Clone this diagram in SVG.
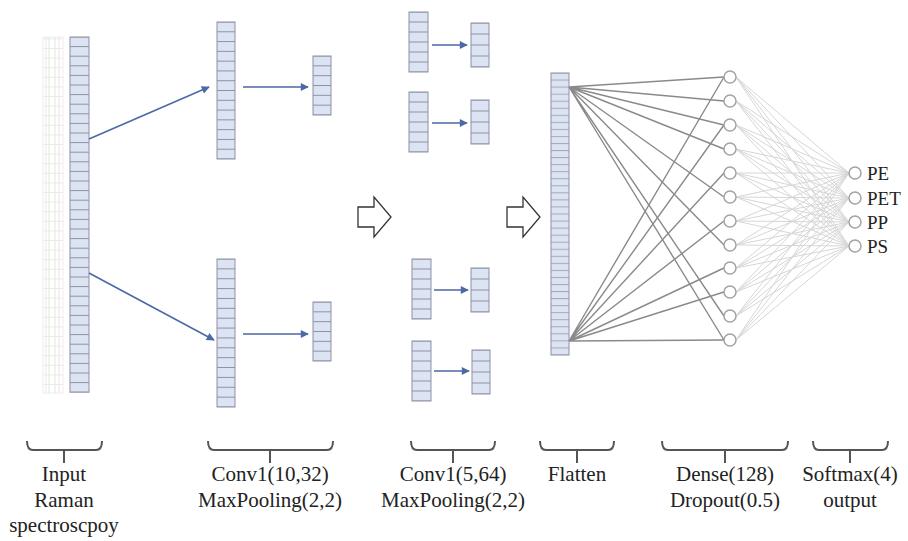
<svg xmlns="http://www.w3.org/2000/svg" width="908" height="541" viewBox="0 0 908 541">
<style>
.col{stroke:#8e92a3;stroke-width:1}
.arr{stroke:#4a69a6;stroke-width:1.6;fill:none;marker-end:url(#ah)}
.d{stroke:#8a8a8a;stroke-width:1.4;fill:none}
.o{stroke:#d6d6d6;stroke-width:1;fill:none}
.node{fill:#fff;stroke:#a3a3a3;stroke-width:1.5}
.br{stroke:#555;stroke-width:2;fill:none}
.lbl{font-size:21px;fill:#222;text-anchor:middle}
.out{font-size:19px;fill:#222}
.hol{fill:#fff;stroke:#333;stroke-width:1.3}
</style>
<defs>
<marker id="ah" viewBox="0 0 10 10" refX="9" refY="5" markerWidth="9" markerHeight="8" markerUnits="userSpaceOnUse" orient="auto">
<path d="M0 0 L10 5 L0 10 z" fill="#4a69a6"/>
</marker>
<pattern id="p96" patternUnits="userSpaceOnUse" x="0" y="-0.5" width="40" height="9.6"><rect width="40" height="9.6" fill="#dce3f3"/><rect width="40" height="1" fill="#8e92a3"/></pattern>
<pattern id="p979" patternUnits="userSpaceOnUse" x="0" y="-0.5" width="40" height="9.786"><rect width="40" height="9.786" fill="#dce3f3"/><rect width="40" height="1" fill="#8e92a3"/></pattern>
<pattern id="p987" patternUnits="userSpaceOnUse" x="0" y="-0.5" width="40" height="9.867"><rect width="40" height="9.867" fill="#dce3f3"/><rect width="40" height="1" fill="#8e92a3"/></pattern>
<pattern id="p983" patternUnits="userSpaceOnUse" x="0" y="-0.5" width="40" height="9.83"><rect width="40" height="9.83" fill="#dce3f3"/><rect width="40" height="1" fill="#8e92a3"/></pattern>
<pattern id="p10" patternUnits="userSpaceOnUse" x="0" y="-0.5" width="40" height="10"><rect width="40" height="10" fill="#dce3f3"/><rect width="40" height="1" fill="#8e92a3"/></pattern>
<pattern id="p11" patternUnits="userSpaceOnUse" x="0" y="-0.5" width="40" height="11"><rect width="40" height="11" fill="#dce3f3"/><rect width="40" height="1" fill="#8e92a3"/></pattern>
<pattern id="p705" patternUnits="userSpaceOnUse" x="0" y="-0.5" width="40" height="7.05"><rect width="40" height="7.05" fill="#dce3f3"/><rect width="40" height="1" fill="#a4a8b8"/></pattern>
<pattern id="pf" patternUnits="userSpaceOnUse" x="0" y="0" width="40" height="9.6"><rect width="40" height="1" fill="#e9ece9"/></pattern>
<g id="c6"><rect width="19" height="60" fill="url(#p10)" class="col"/></g>
<g id="c4"><rect width="18" height="44" fill="url(#p11)" class="col"/></g>
<g id="s6"><rect width="18" height="59" fill="url(#p983)" class="col"/></g>
<path id="hollow" d="M0 10 H16 V0 L33 20 L16 40 V30 H0 Z"/>
</defs>
<rect width="908" height="541" fill="#fff"/>

<g id="input-shadow">
<rect x="43" y="37" width="20" height="356" fill="url(#pf)" stroke="#eceeec" stroke-width="1"/>
<path d="M49 37 V393 M55 37 V393" stroke="#dcebdc" stroke-width="1"/>
<path d="M46 37 V393 M59 37 V393" stroke="#f1e2e7" stroke-width="1"/>
</g>
<g id="input"><g transform="translate(70,37)"><rect width="19" height="355.2" fill="url(#p96)" class="col"/></g></g>

<g id="conv1-top"><g transform="translate(217,22)"><rect width="18" height="137" fill="url(#p979)" class="col"/></g></g>
<g id="conv1-bottom"><g transform="translate(217,259)"><rect width="18" height="148" fill="url(#p987)" class="col"/></g></g>
<g id="pool1-top"><use href="#s6" x="313" y="56"/></g>
<g id="pool1-bottom"><use href="#s6" x="313" y="302"/></g>

<g id="conv2-1"><use href="#c6" x="409" y="12"/></g>
<g id="conv2-2"><use href="#c6" x="409" y="92"/></g>
<g id="conv2-3"><use href="#c6" x="412" y="259"/></g>
<g id="conv2-4"><use href="#c6" x="412" y="341"/></g>
<g id="pool2-1"><use href="#c4" x="471" y="23"/></g>
<g id="pool2-2"><use href="#c4" x="471" y="100"/></g>
<g id="pool2-3"><use href="#c4" x="471" y="268"/></g>
<g id="pool2-4"><use href="#c4" x="472" y="350"/></g>

<g id="step-arrow-1"><use href="#hollow" x="358" y="197" class="hol"/></g>
<g id="step-arrow-2"><use href="#hollow" x="507" y="197" class="hol"/></g>

<g id="flatten"><g transform="translate(551,73)"><rect width="18" height="282" fill="url(#p705)" class="col"/></g></g>

<g id="connectors">
<path class="arr" d="M89 139 L209 87"/>
<path class="arr" d="M89 273 L214 340"/>
<path class="arr" d="M243 87 H308"/>
<path class="arr" d="M243 334 H308"/>
<path class="arr" d="M432 45 H467"/>
<path class="arr" d="M432 123 H467"/>
<path class="arr" d="M434 290 H468"/>
<path class="arr" d="M434 371 H469"/>
<g id="dense-lines">
<path class="d" d="M569 87 L724 77 M569 87 L724 101 M569 87 L724 125 M569 87 L724 149 M569 87 L724 197 M569 87 L724 245 M569 87 L724 316 M569 87 L724 340"/>
<path class="d" d="M569 341 L724 340 M569 341 L724 292 M569 341 L724 268 M569 341 L724 221 M569 341 L724 173 M569 341 L724 125 M569 341 L724 77"/>
</g>
<g id="output-lines">
<path class="o" d="M736 77 L849 173 M736 77 L849 198 M736 77 L849 222 M736 77 L849 246
M736 101 L849 173 M736 101 L849 198 M736 101 L849 222 M736 101 L849 246
M736 125 L849 173 M736 125 L849 198 M736 125 L849 222 M736 125 L849 246
M736 149 L849 173 M736 149 L849 198 M736 149 L849 222 M736 149 L849 246
M736 173 L849 173 M736 173 L849 198 M736 173 L849 222 M736 173 L849 246
M736 197 L849 173 M736 197 L849 198 M736 197 L849 222 M736 197 L849 246
M736 221 L849 173 M736 221 L849 198 M736 221 L849 222 M736 221 L849 246
M736 245 L849 173 M736 245 L849 198 M736 245 L849 222 M736 245 L849 246
M736 268 L849 173 M736 268 L849 198 M736 268 L849 222 M736 268 L849 246
M736 292 L849 173 M736 292 L849 198 M736 292 L849 222 M736 292 L849 246
M736 316 L849 173 M736 316 L849 198 M736 316 L849 222 M736 316 L849 246
M736 340 L849 173 M736 340 L849 198 M736 340 L849 222 M736 340 L849 246"/>
</g>
</g>

<g id="dense">
<circle class="node" cx="730" cy="77" r="6"/>
<circle class="node" cx="730" cy="101" r="6"/>
<circle class="node" cx="730" cy="125" r="6"/>
<circle class="node" cx="730" cy="149" r="6"/>
<circle class="node" cx="730" cy="173" r="6"/>
<circle class="node" cx="730" cy="197" r="6"/>
<circle class="node" cx="730" cy="221" r="6"/>
<circle class="node" cx="730" cy="245" r="6"/>
<circle class="node" cx="730" cy="268" r="6"/>
<circle class="node" cx="730" cy="292" r="6"/>
<circle class="node" cx="730" cy="316" r="6"/>
<circle class="node" cx="730" cy="340" r="6"/>
</g>

<g font-family="'Liberation Serif', 'Times New Roman', serif">
<g id="out-PE"><circle class="node" cx="855" cy="173" r="6"/><text class="out" x="867" y="179.5">PE</text></g>
<g id="out-PET"><circle class="node" cx="855" cy="198" r="6"/><text class="out" x="867" y="204.5">PET</text></g>
<g id="out-PP"><circle class="node" cx="855" cy="222" r="6"/><text class="out" x="867" y="228.5">PP</text></g>
<g id="out-PS"><circle class="node" cx="855" cy="246" r="6"/><text class="out" x="867" y="252.5">PS</text></g>

<g id="label-input">
<path class="br" d="M27 441 Q27 450 33 450 H96 Q102 450 102 441 M64 450 V463"/>
<text class="lbl" x="64" y="481">Input</text>
<text class="lbl" x="64" y="506.5">Raman</text>
<text class="lbl" x="64" y="532">spectroscpoy</text>
</g>
<g id="label-conv1">
<path class="br" d="M208 441 Q208 450 214 450 H327 Q333 450 333 441 M270 450 V463"/>
<text class="lbl" x="270" y="481">Conv1(10,32)</text>
<text class="lbl" x="270" y="506.5">MaxPooling(2,2)</text>
</g>
<g id="label-conv2">
<path class="br" d="M411 441 Q411 450 417 450 H489 Q495 450 495 441 M453 450 V463"/>
<text class="lbl" x="453" y="481">Conv1(5,64)</text>
<text class="lbl" x="453" y="506.5">MaxPooling(2,2)</text>
</g>
<g id="label-flatten">
<path class="br" d="M540 441 Q540 450 546 450 H608 Q614 450 614 441 M577 450 V463"/>
<text class="lbl" x="577" y="481">Flatten</text>
</g>
<g id="label-dense">
<path class="br" d="M662 441 Q662 450 668 450 H782 Q788 450 788 441 M725 450 V463"/>
<text class="lbl" x="725" y="481">Dense(128)</text>
<text class="lbl" x="725" y="506.5">Dropout(0.5)</text>
</g>
<g id="label-softmax">
<path class="br" d="M813 441 Q813 450 819 450 H882 Q888 450 888 441 M850 450 V463"/>
<text class="lbl" x="850" y="481">Softmax(4)</text>
<text class="lbl" x="850" y="506.5">output</text>
</g>
</g>
</svg>
